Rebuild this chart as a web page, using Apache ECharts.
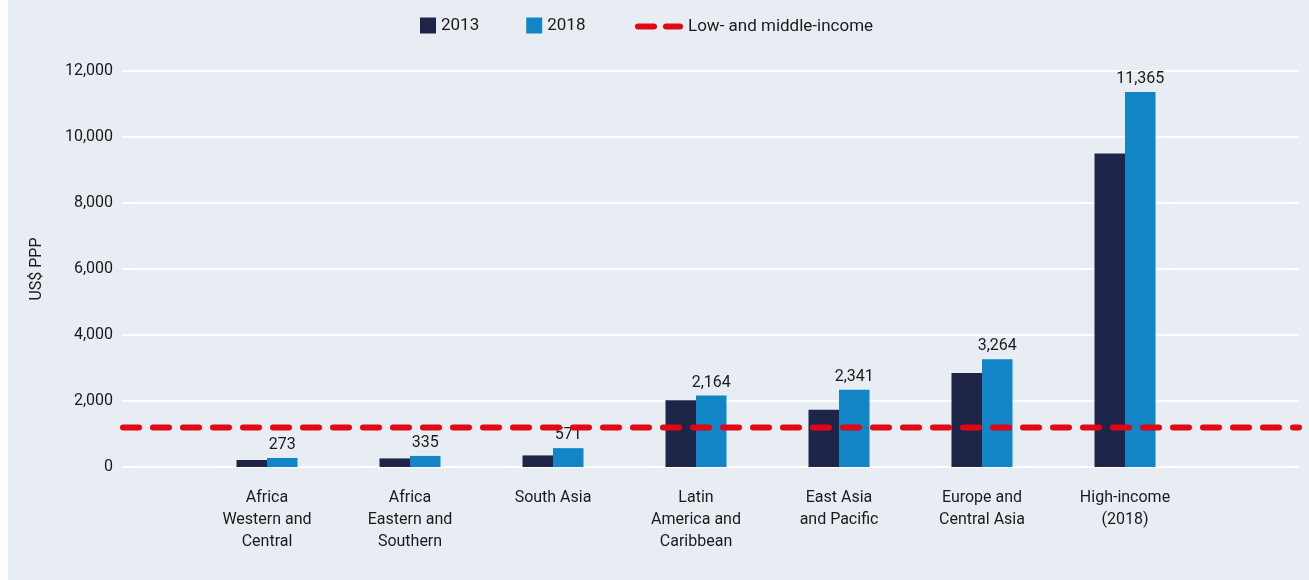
<!DOCTYPE html>
<html>
<head>
<meta charset="utf-8">
<title>US$ PPP by region</title>
<script src="https://cdn.jsdelivr.net/npm/echarts@6/dist/echarts.min.js"></script>
<style>
  html, body {
    margin: 0;
    padding: 0;
    background: #fff;
  }
  #chart {
    position: absolute;
    left: 8px;
    top: 0;
    width: 1301px;
    height: 580px;
  }
</style>
</head>
<body>
<div id="chart"></div>
<script>
// 数据
const categories = [
  'Africa\nWestern and\nCentral',
  'Africa\nEastern and\nSouthern',
  'South Asia',
  'Latin\nAmerica and\nCaribbean',
  'East Asia\nand Pacific',
  'Europe and\nCentral Asia',
  'High-income\n(2018)'
]
const data2013 = [212, 260, 351, 2025, 1732, 2851, 9501]
const data2018 = [273, 335, 571, 2164, 2341, 3264, 11365]
const lowMiddleIncome = 1195
const yTicks = [0, 2000, 4000, 6000, 8000, 10000, 12000]

const textColor = '#1a1a1a'
const red = '#e30613'
const font = 'Roboto'

// 图例里的两段虚线
const dashIcon = 'path://M3,0 H19 A3,3 0 0 1 19,6 H3 A3,3 0 0 1 3,0 Z M31,0 H45 A3,3 0 0 1 45,6 H31 A3,3 0 0 1 31,0 Z'

const myChart = echarts.init(document.getElementById('chart'))

myChart.setOption({
  backgroundColor: '#e8edf4',
  textStyle: {
    fontFamily: font
  },
  legend: [
    {
      data: ['2013', '2018'],
      left: 412,
      top: 17,
      padding: 0,
      itemWidth: 16,
      itemHeight: 16,
      itemGap: 47,
      icon: 'rect',
      textStyle: {
        color: textColor,
        fontSize: 17,
        fontFamily: font
      }
    },
    {
      data: [{ name: 'Low- and middle-income', icon: dashIcon }],
      left: 627,
      top: 18,
      padding: 0,
      itemWidth: 48,
      itemHeight: 6,
      textStyle: {
        color: textColor,
        fontSize: 17,
        fontFamily: font
      }
    }
  ],
  grid: [
    // 背景网格 + 虚线
    {
      left: 115,
      right: 10,
      top: 71,
      bottom: 113
    },
    // 柱状图
    {
      left: 187.5,
      right: 112.5,
      top: 71,
      bottom: 113
    }
  ],
  xAxis: [
    {
      type: 'value',
      gridIndex: 0,
      min: 0,
      max: 1,
      show: false
    },
    {
      type: 'category',
      gridIndex: 1,
      data: categories,
      axisTick: { show: false },
      axisLine: { show: false },
      axisLabel: {
        color: textColor,
        fontSize: 16,
        lineHeight: 22,
        margin: 20,
        interval: 0
      }
    }
  ],
  yAxis: [
    {
      type: 'value',
      gridIndex: 0,
      min: yTicks[0],
      max: yTicks[yTicks.length - 1],
      interval: yTicks[1] - yTicks[0],
      name: 'US$ PPP',
      nameLocation: 'middle',
      nameGap: 78,
      nameTextStyle: {
        color: textColor,
        fontSize: 16
      },
      axisLine: { show: false },
      axisTick: { show: false },
      axisLabel: {
        color: textColor,
        fontSize: 16,
        margin: 10,
        formatter: v => v.toLocaleString('en-US')
      },
      splitLine: {
        show: true,
        lineStyle: {
          color: '#ffffff',
          width: 2
        }
      }
    },
    {
      type: 'value',
      gridIndex: 1,
      min: yTicks[0],
      max: yTicks[yTicks.length - 1],
      show: false
    }
  ],
  series: [
    {
      name: '2013',
      type: 'bar',
      xAxisIndex: 1,
      yAxisIndex: 1,
      barWidth: 30.5,
      barGap: 0,
      itemStyle: {
        color: '#1f2449'
      },
      data: data2013
    },
    {
      name: '2018',
      type: 'bar',
      xAxisIndex: 1,
      yAxisIndex: 1,
      barWidth: 30.5,
      barGap: 0,
      itemStyle: {
        color: '#1185c6'
      },
      label: {
        show: true,
        position: 'top',
        distance: 5,
        color: textColor,
        fontSize: 16,
        formatter: p => p.value.toLocaleString('en-US')
      },
      data: data2018
    },
    {
      name: 'Low- and middle-income',
      type: 'line',
      xAxisIndex: 0,
      yAxisIndex: 0,
      symbol: 'none',
      z: 5,
      itemStyle: {
        color: red
      },
      lineStyle: {
        color: red,
        width: 6,
        type: [16, 14],
        cap: 'round'
      },
      data: [[0, lowMiddleIncome], [1, lowMiddleIncome]]
    }
  ]
})
</script>
</body>
</html>
